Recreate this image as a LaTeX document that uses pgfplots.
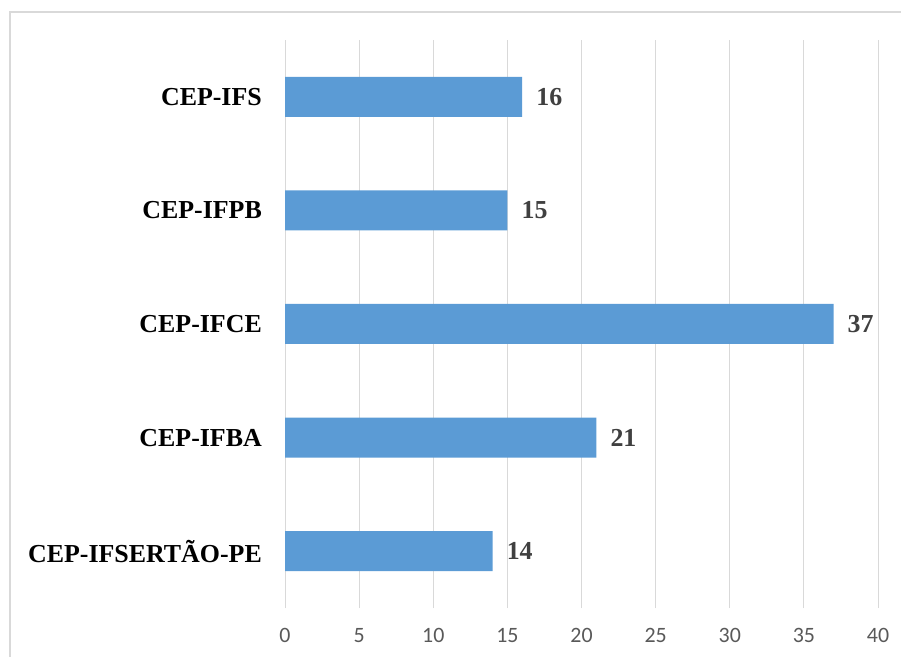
\documentclass[border=0pt]{standalone}
\usepackage{pgfplots}
\pgfplotsset{compat=1.18}
\usepackage{fontspec}
\setmainfont{Liberation Serif}
\newfontfamily\carlito{Carlito}
\definecolor{barblue}{HTML}{5B9BD5}
\definecolor{gridgray}{HTML}{D9D9D9}
\definecolor{ticktext}{HTML}{595959}
\definecolor{valtext}{HTML}{404040}
\begin{document}
\begin{tikzpicture}
\path[use as bounding box] (0,0) rectangle (901bp,657bp);
\draw[gridgray, line width=1.2bp] (10bp,0) -- (10bp,645bp) -- (901bp,645bp);
\begin{axis}[
  at={(285bp,49bp)}, anchor=south west,
  scale only axis, width=593bp, height=568bp,
  xbar, bar width=40bp,
  xmin=0, xmax=40, ymin=-0.5, ymax=4.5,
  enlargelimits=false, clip=false,
  xtick={0,5,...,40},
  ytick={0,1,2,3,4},
  yticklabels={CEP-IFSERTÃO-PE,CEP-IFBA,CEP-IFCE,CEP-IFPB,CEP-IFS},
  xmajorgrids, ymajorgrids=false,
  grid style={draw=gridgray, line width=1bp},
  axis line style={draw=none},
  major tick length=0pt,
  /pgf/number format/assume math mode=true,
  xticklabel style={font=\carlito\fontsize{22}{22}\selectfont, text=ticktext, anchor=north, inner sep=0pt, yshift=-20bp},
  yticklabel style={font=\bfseries\fontsize{26}{26}\selectfont, text=black, anchor=east, inner sep=0pt, xshift=-23bp},
  nodes near coords,
  nodes near coords style={font=\bfseries\fontsize{26}{26}\selectfont, text=valtext, anchor=west, inner sep=0pt, xshift=14bp},
]
\addplot[fill=barblue, draw=none] coordinates {(14,0) (21,1) (37,2) (15,3) (16,4)};
\end{axis}
\end{tikzpicture}
\end{document}
